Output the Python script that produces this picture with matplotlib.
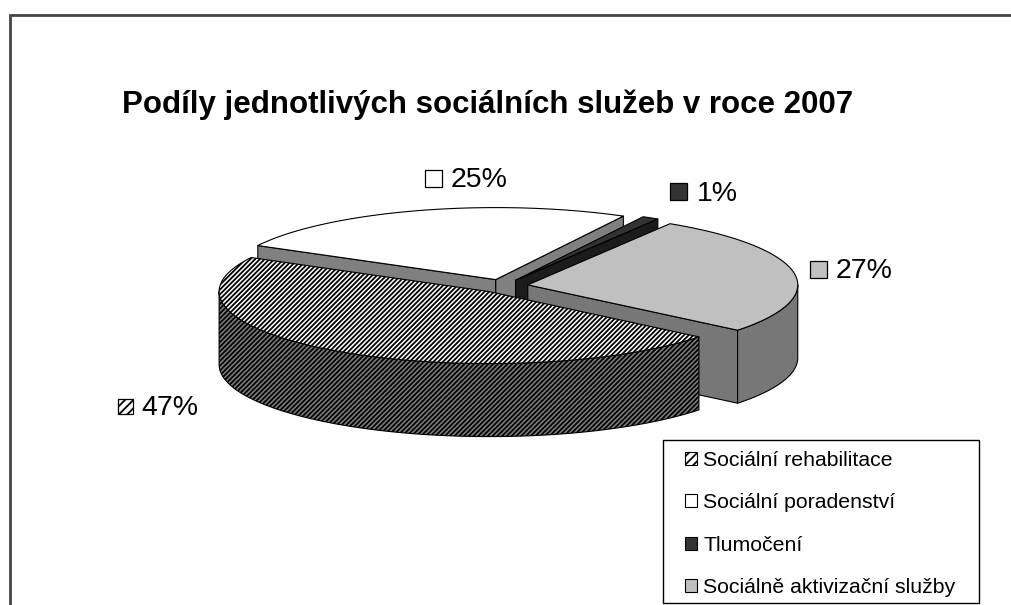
import numpy as np
import matplotlib
matplotlib.use('Agg')
import matplotlib.pyplot as plt
from matplotlib.patches import Polygon, Rectangle, Patch

plt.rcParams['font.family'] = ['Liberation Sans', 'DejaVu Sans']
plt.rcParams['hatch.linewidth'] = 1.3

title = 'Podíly jednotlivých sociálních služeb v roce 2007'
labels = ['Sociální rehabilitace', 'Sociální poradenství', 'Tlumočení',
          'Sociálně aktivizační služby']
shares = [47, 25, 1, 27]
pct_labels = ['47%', '25%', '1%', '27%']

top_colors = ['white', 'white', '#333333', '#c0c0c0']
side_colors = ['#808080', '#808080', '#1c1c1c', '#777777']
hatches = ['///////', None, None, None]

# pie geometry in pixel space (y grows downward)
cx, cy = 503, 286
rx, ry = 270, 72
depth = 73
explode = 0.093
start = -39.0

fig = plt.figure(figsize=(10.11, 6.05), dpi=100)
ax = fig.add_axes([0, 0, 1, 1])
ax.set_xlim(0, 1011)
ax.set_ylim(605, 0)
ax.axis('off')

# outer chart-area frame (cut off on the right and bottom)
ax.plot([9.5, 9.5, 1011], [605, 14.5, 14.5], color='#444444', lw=2.0,
        solid_joinstyle='miter')


def rim(t, ox, oy, dz=0.0):
    t = np.radians(t)
    return np.column_stack([cx + ox + rx * np.cos(t),
                            cy + oy - ry * np.sin(t) + dz])


def face(pts, fc, hatch):
    ax.add_patch(Polygon(pts, closed=True, facecolor=fc, edgecolor='black',
                         lw=0.8, hatch=hatch, joinstyle='round'))


slices = []
a0 = start
for i, s in enumerate(shares):
    a1 = a0 - 360.0 * s / 100.0
    b = np.radians((a0 + a1) / 2)
    ox = explode * rx * np.cos(b)
    oy = -explode * ry * np.sin(b)
    slices.append((np.sin(b), i, a0, a1, ox, oy))
    a0 = a1

# back slices first
for _, i, a0, a1, ox, oy in sorted(slices, reverse=True):
    tip = np.array([[cx + ox, cy + oy]])
    tip_d = tip + [0, depth]
    # radial faces
    for ang, vis in ((a0, np.cos(np.radians(a0)) < 0),
                     (a1, np.cos(np.radians(a1)) > 0)):
        if vis:
            p = rim([ang], ox, oy)
            pd = rim([ang], ox, oy, depth)
            face(np.vstack([tip, p, pd, tip_d]), side_colors[i], hatches[i])
    # outer curved side (front half only)
    for lo_f, hi_f in ((-540, -360), (-180, 0), (180, 360)):
        lo, hi = max(a1, lo_f), min(a0, hi_f)
        if hi > lo:
            t = np.linspace(lo, hi, 120)
            face(np.vstack([rim(t, ox, oy), rim(t[::-1], ox, oy, depth)]),
                 side_colors[i], hatches[i])
    # top face
    t = np.linspace(a1, a0, 240)
    face(np.vstack([tip, rim(t, ox, oy)]), top_colors[i], hatches[i])

# percentage labels with colour keys
label_pos = [(118, 399, 15, 141, 415), (425, 170, 17, 451, 187),
             (670, 183, 17, 697, 201), (810, 261, 17, 836, 278)]
for i, (bx, by, bs, tx, ty) in enumerate(label_pos):
    ax.add_patch(Rectangle((bx, by), bs, bs, facecolor=top_colors[i],
                           edgecolor='black', lw=0.9,
                           hatch='////' if hatches[i] else None))
    ax.text(tx, ty, pct_labels[i], fontsize=20.5, va='baseline', ha='left',
            color='black')

ax.text(488, 113, title, fontsize=22.5, fontweight='bold', ha='center',
        va='baseline')

# legend
ax.add_patch(Rectangle((663, 440), 316, 163, facecolor='white',
                       edgecolor='black', lw=1.0))
handles = [Patch(facecolor=top_colors[i], edgecolor='black',
                 hatch='////' if hatches[i] else None, lw=0.8)
           for i in range(len(labels))]
ax.legend(handles, labels, loc='upper left', frameon=False,
          bbox_to_anchor=(685 / 1011, 1 - 451 / 605),
          bbox_transform=fig.transFigure, borderaxespad=0, borderpad=0,
          fontsize=15.3, handlelength=0.55, handleheight=0.55,
          handletextpad=0.3, labelspacing=1.1)

fig.savefig('out.png', dpi=100)
